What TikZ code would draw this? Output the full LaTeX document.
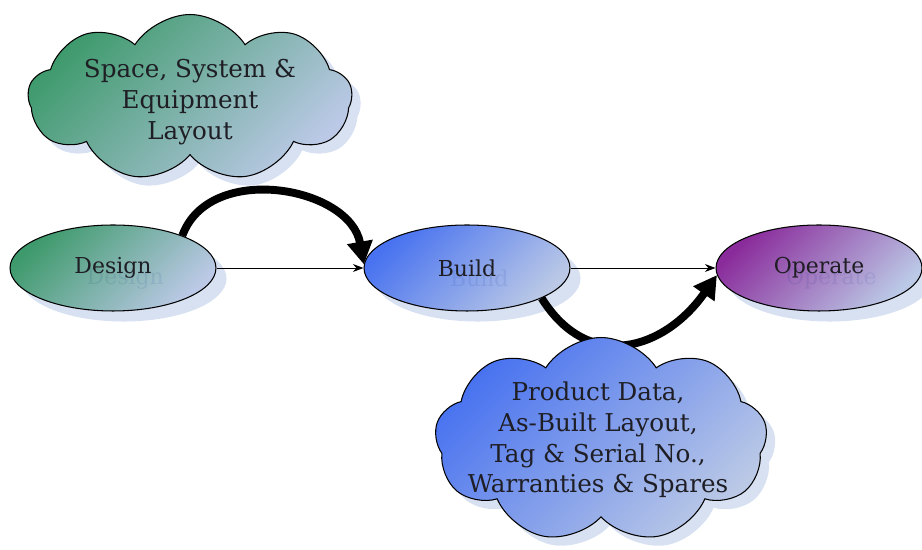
\documentclass[tikz,border=0pt]{standalone}
\usepackage{fontspec}
\setmainfont{DejaVu Serif}
\usetikzlibrary{arrows.meta,shapes.geometric,shapes.symbols,shadows}

\definecolor{greenstart}{HTML}{3E9A6C}
\definecolor{bluestart}{HTML}{4872F0}
\definecolor{purplestart}{HTML}{8A2B9B}
\definecolor{paleend}{HTML}{BBC9E6}
\definecolor{shadowblue}{HTML}{D7E1F2}
\definecolor{ghosttext}{HTML}{E8EDF7}
\definecolor{inkgray}{HTML}{1E1E24}

\tikzset{
  tint/.style={top color=#1, bottom color=paleend, shading angle=45},
  stage/.style={ellipse, draw=black, line width=0.6pt, inner sep=0pt,
    minimum width=4.12cm, minimum height=1.72cm, text=inkgray,
    font=\fontsize{12.5}{15}\selectfont,
    drop shadow={fill=shadowblue, opacity=1, shadow xshift=6pt, shadow yshift=-6pt}},
  idea/.style={cloud, cloud puffs=9, cloud puff arc=115,
    draw=black, line width=0.6pt, inner sep=0pt,
    drop shadow={fill=shadowblue, opacity=1, shadow xshift=5pt, shadow yshift=-5pt}},
  idea text/.style={align=center, text=inkgray, font=\fontsize{14}{17.5}\selectfont},
  ghost/.style={text=ghosttext, blend mode=multiply, font=\fontsize{12.5}{15}\selectfont},
  thin flow/.style={-{Stealth[length=6pt,width=4.5pt]}, line width=0.5pt},
  bold flow/.style={-{Triangle[length=13pt,width=14pt]}, line width=4.5pt},
}

\begin{document}
\begin{tikzpicture}[x=0.02cm, y=0.02cm]
  \useasboundingbox (0,0) rectangle (922,550);

  % life cycle stages
  \node[stage, tint=greenstart] (design) at (113,282) {Design};
  \node[stage, tint=bluestart] (build) at (467,282) {Build};
  \node[stage, tint=purplestart] (operate) at (819,282) {Operate};

  \node[ghost] (designghost) at ([shift={(7pt,-6pt)}]design.center) {Design};
  \node[ghost] (buildghost) at ([shift={(7pt,-6pt)}]build.center) {Build};
  \node[ghost] (operateghost) at ([shift={(7pt,-6pt)}]operate.center) {Operate};

  % flow
  \draw[thin flow] (design.east) -- (build.west);
  \draw[thin flow] (build.east) -- (operate.west);
  \draw[bold flow] (design.25) to[out=70, in=100, looseness=1.1] (build.178);
  \draw[bold flow] (build.-22) to[out=-58, in=-125, looseness=1.3] (operate.184);

  % information handed over
  \node[idea, tint=greenstart, minimum width=6.48cm, minimum height=3.34cm]
    (layoutcloud) at (190,452) {};
  \node[idea text] (layouttext) at (190,448) {Space, System \&\\Equipment\\Layout};
  \node[idea, tint=bluestart, minimum width=6.65cm, minimum height=4.1cm]
    (handovercloud) at (601,110) {};
  \node[idea text] (handovertext) at (598,110)
    {Product Data,\\As-Built Layout,\\Tag \& Serial No.,\\Warranties \& Spares};
\end{tikzpicture}
\end{document}
